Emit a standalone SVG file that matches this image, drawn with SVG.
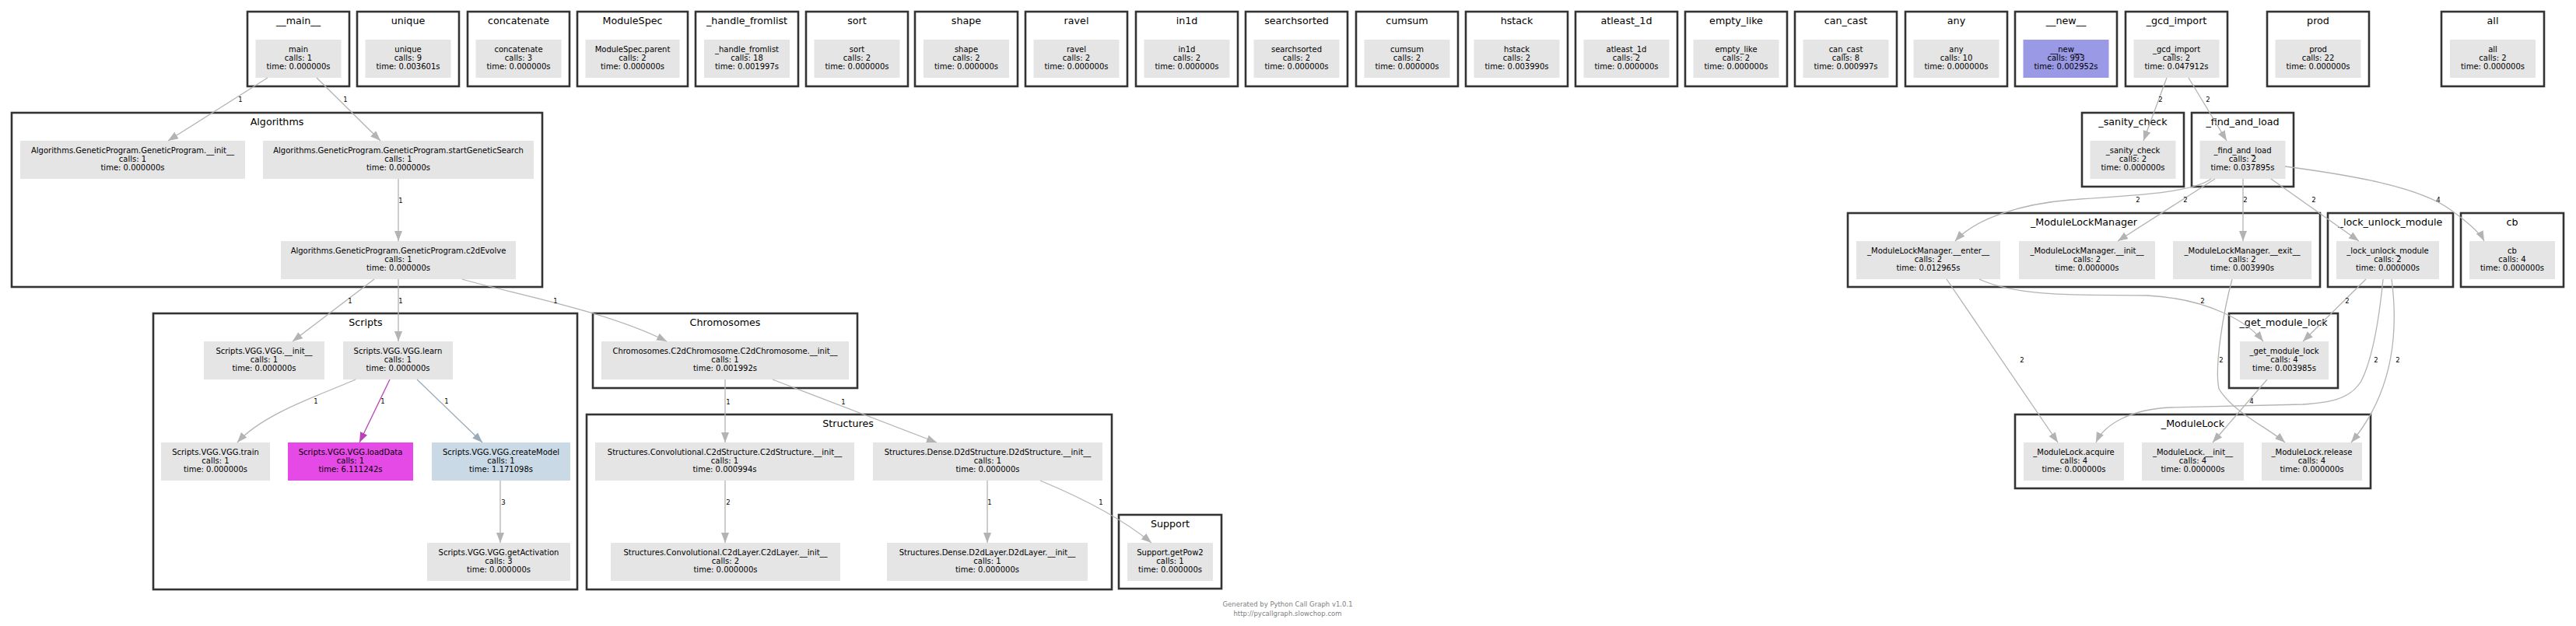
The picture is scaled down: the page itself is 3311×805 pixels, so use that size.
<svg xmlns="http://www.w3.org/2000/svg" width="3311" height="805" viewBox="0 0 3311 805">
<style>
.bg{fill:#ffffff}
.cl{fill:#ffffff;stroke:#333333;stroke-width:2.6}
.nd{fill:#e5e5e5}
.t{font-family:"DejaVu Sans",Verdana,sans-serif;font-size:10px;fill:#000;text-anchor:middle}
.ct{font-family:"DejaVu Sans",Verdana,sans-serif;font-size:12.7px;fill:#000;text-anchor:middle}
.e{fill:none;stroke:#b3b3b3;stroke-width:1.3;marker-end:url(#ag)}
.em{fill:none;stroke:#b942b9;stroke-width:1.3;marker-end:url(#am)}
.eb{fill:none;stroke:#9aabb8;stroke-width:1.3;marker-end:url(#ab)}
.el{font-family:"DejaVu Sans",Verdana,sans-serif;font-size:8.5px;fill:#000;text-anchor:middle}
.ft{font-family:"DejaVu Sans",Verdana,sans-serif;font-size:8.5px;fill:#808080;text-anchor:middle}
</style>
<defs>
<marker id="ag" markerUnits="userSpaceOnUse" markerWidth="14" markerHeight="11" refX="13" refY="5" orient="auto"><path d="M0,0 L13,5 L0,10 z" fill="#b3b3b3"/></marker>
<marker id="am" markerUnits="userSpaceOnUse" markerWidth="14" markerHeight="11" refX="13" refY="5" orient="auto"><path d="M0,0 L13,5 L0,10 z" fill="#b942b9"/></marker>
<marker id="ab" markerUnits="userSpaceOnUse" markerWidth="14" markerHeight="11" refX="13" refY="5" orient="auto"><path d="M0,0 L13,5 L0,10 z" fill="#9aabb8"/></marker>
</defs>
<rect class="bg" x="0" y="0" width="3311" height="805"/>

<!-- top row clusters -->
<g id="c-main"><rect class="cl" x="318" y="15" width="131" height="96"/><text class="ct" x="383.5" y="31">__main__</text>
<g id="n-main"><rect class="nd" x="328.5" y="51" width="110" height="49"/><text class="t" x="383.5" y="67"><tspan x="383.5">main</tspan><tspan x="383.5" dy="11">calls: 1</tspan><tspan x="383.5" dy="11">time: 0.000000s</tspan></text></g></g>
<g id="c-unique"><rect class="cl" x="459" y="15" width="131" height="96"/><text class="ct" x="524.5" y="31">unique</text>
<g id="n-unique"><rect class="nd" x="469.5" y="51" width="110" height="49"/><text class="t" x="524.5" y="67"><tspan x="524.5">unique</tspan><tspan x="524.5" dy="11">calls: 9</tspan><tspan x="524.5" dy="11">time: 0.003601s</tspan></text></g></g>
<g id="c-concatenate"><rect class="cl" x="601" y="15" width="131" height="96"/><text class="ct" x="666.5" y="31">concatenate</text>
<g id="n-concatenate"><rect class="nd" x="611.5" y="51" width="110" height="49"/><text class="t" x="666.5" y="67"><tspan x="666.5">concatenate</tspan><tspan x="666.5" dy="11">calls: 3</tspan><tspan x="666.5" dy="11">time: 0.000000s</tspan></text></g></g>
<g id="c-ModuleSpec"><rect class="cl" x="742" y="15" width="142" height="96"/><text class="ct" x="813" y="31">ModuleSpec</text>
<g id="n-ModuleSpec"><rect class="nd" x="752.5" y="51" width="121" height="49"/><text class="t" x="813" y="67"><tspan x="813">ModuleSpec.parent</tspan><tspan x="813" dy="11">calls: 2</tspan><tspan x="813" dy="11">time: 0.000000s</tspan></text></g></g>
<g id="c-handle_fromlist"><rect class="cl" x="894" y="15" width="132" height="96"/><text class="ct" x="960" y="31">_handle_fromlist</text>
<g id="n-handle_fromlist"><rect class="nd" x="905" y="51" width="110" height="49"/><text class="t" x="960" y="67"><tspan x="960">_handle_fromlist</tspan><tspan x="960" dy="11">calls: 18</tspan><tspan x="960" dy="11">time: 0.001997s</tspan></text></g></g>
<g id="c-sort"><rect class="cl" x="1036" y="15" width="131" height="96"/><text class="ct" x="1101.5" y="31">sort</text>
<g id="n-sort"><rect class="nd" x="1046.5" y="51" width="110" height="49"/><text class="t" x="1101.5" y="67"><tspan x="1101.5">sort</tspan><tspan x="1101.5" dy="11">calls: 2</tspan><tspan x="1101.5" dy="11">time: 0.000000s</tspan></text></g></g>
<g id="c-shape"><rect class="cl" x="1176" y="15" width="132" height="96"/><text class="ct" x="1242" y="31">shape</text>
<g id="n-shape"><rect class="nd" x="1187" y="51" width="110" height="49"/><text class="t" x="1242" y="67"><tspan x="1242">shape</tspan><tspan x="1242" dy="11">calls: 2</tspan><tspan x="1242" dy="11">time: 0.000000s</tspan></text></g></g>
<g id="c-ravel"><rect class="cl" x="1318" y="15" width="131" height="96"/><text class="ct" x="1383.5" y="31">ravel</text>
<g id="n-ravel"><rect class="nd" x="1328.5" y="51" width="110" height="49"/><text class="t" x="1383.5" y="67"><tspan x="1383.5">ravel</tspan><tspan x="1383.5" dy="11">calls: 2</tspan><tspan x="1383.5" dy="11">time: 0.000000s</tspan></text></g></g>
<g id="c-in1d"><rect class="cl" x="1460" y="15" width="131" height="96"/><text class="ct" x="1525.5" y="31">in1d</text>
<g id="n-in1d"><rect class="nd" x="1470.5" y="51" width="110" height="49"/><text class="t" x="1525.5" y="67"><tspan x="1525.5">in1d</tspan><tspan x="1525.5" dy="11">calls: 2</tspan><tspan x="1525.5" dy="11">time: 0.000000s</tspan></text></g></g>
<g id="c-searchsorted"><rect class="cl" x="1601" y="15" width="131" height="96"/><text class="ct" x="1666.5" y="31">searchsorted</text>
<g id="n-searchsorted"><rect class="nd" x="1611.5" y="51" width="110" height="49"/><text class="t" x="1666.5" y="67"><tspan x="1666.5">searchsorted</tspan><tspan x="1666.5" dy="11">calls: 2</tspan><tspan x="1666.5" dy="11">time: 0.000000s</tspan></text></g></g>
<g id="c-cumsum"><rect class="cl" x="1743" y="15" width="131" height="96"/><text class="ct" x="1808.5" y="31">cumsum</text>
<g id="n-cumsum"><rect class="nd" x="1753.5" y="51" width="110" height="49"/><text class="t" x="1808.5" y="67"><tspan x="1808.5">cumsum</tspan><tspan x="1808.5" dy="11">calls: 2</tspan><tspan x="1808.5" dy="11">time: 0.000000s</tspan></text></g></g>
<g id="c-hstack"><rect class="cl" x="1884" y="15" width="131" height="96"/><text class="ct" x="1949.5" y="31">hstack</text>
<g id="n-hstack"><rect class="nd" x="1894.5" y="51" width="110" height="49"/><text class="t" x="1949.5" y="67"><tspan x="1949.5">hstack</tspan><tspan x="1949.5" dy="11">calls: 2</tspan><tspan x="1949.5" dy="11">time: 0.003990s</tspan></text></g></g>
<g id="c-atleast_1d"><rect class="cl" x="2025" y="15" width="131" height="96"/><text class="ct" x="2090.5" y="31">atleast_1d</text>
<g id="n-atleast_1d"><rect class="nd" x="2035.5" y="51" width="110" height="49"/><text class="t" x="2090.5" y="67"><tspan x="2090.5">atleast_1d</tspan><tspan x="2090.5" dy="11">calls: 2</tspan><tspan x="2090.5" dy="11">time: 0.000000s</tspan></text></g></g>
<g id="c-empty_like"><rect class="cl" x="2166" y="15" width="131" height="96"/><text class="ct" x="2231.5" y="31">empty_like</text>
<g id="n-empty_like"><rect class="nd" x="2176.5" y="51" width="110" height="49"/><text class="t" x="2231.5" y="67"><tspan x="2231.5">empty_like</tspan><tspan x="2231.5" dy="11">calls: 2</tspan><tspan x="2231.5" dy="11">time: 0.000000s</tspan></text></g></g>
<g id="c-can_cast"><rect class="cl" x="2307" y="15" width="131" height="96"/><text class="ct" x="2372.5" y="31">can_cast</text>
<g id="n-can_cast"><rect class="nd" x="2317.5" y="51" width="110" height="49"/><text class="t" x="2372.5" y="67"><tspan x="2372.5">can_cast</tspan><tspan x="2372.5" dy="11">calls: 8</tspan><tspan x="2372.5" dy="11">time: 0.000997s</tspan></text></g></g>
<g id="c-any"><rect class="cl" x="2449" y="15" width="131" height="96"/><text class="ct" x="2514.5" y="31">any</text>
<g id="n-any"><rect class="nd" x="2459.5" y="51" width="110" height="49"/><text class="t" x="2514.5" y="67"><tspan x="2514.5">any</tspan><tspan x="2514.5" dy="11">calls: 10</tspan><tspan x="2514.5" dy="11">time: 0.000000s</tspan></text></g></g>
<g id="c-new"><rect class="cl" x="2590" y="15" width="131" height="96"/><text class="ct" x="2655.5" y="31">__new__</text>
<g id="n-new"><rect x="2600.5" y="51" width="110" height="49" fill="#9999e6"/><text class="t" x="2655.5" y="67"><tspan x="2655.5">__new__</tspan><tspan x="2655.5" dy="11">calls: 993</tspan><tspan x="2655.5" dy="11">time: 0.002952s</tspan></text></g></g>
<g id="c-gcd_import"><rect class="cl" x="2732" y="15" width="131" height="96"/><text class="ct" x="2797.5" y="31">_gcd_import</text>
<g id="n-gcd_import"><rect class="nd" x="2742.5" y="51" width="110" height="49"/><text class="t" x="2797.5" y="67"><tspan x="2797.5">_gcd_import</tspan><tspan x="2797.5" dy="11">calls: 2</tspan><tspan x="2797.5" dy="11">time: 0.047912s</tspan></text></g></g>
<g id="c-prod"><rect class="cl" x="2914" y="15" width="131" height="96"/><text class="ct" x="2979.5" y="31">prod</text>
<g id="n-prod"><rect class="nd" x="2924.5" y="51" width="110" height="49"/><text class="t" x="2979.5" y="67"><tspan x="2979.5">prod</tspan><tspan x="2979.5" dy="11">calls: 22</tspan><tspan x="2979.5" dy="11">time: 0.000000s</tspan></text></g></g>
<g id="c-all"><rect class="cl" x="3138" y="15" width="132" height="96"/><text class="ct" x="3204" y="31">all</text>
<g id="n-all"><rect class="nd" x="3149" y="51" width="110" height="49"/><text class="t" x="3204" y="67"><tspan x="3204">all</tspan><tspan x="3204" dy="11">calls: 2</tspan><tspan x="3204" dy="11">time: 0.000000s</tspan></text></g></g>

<!-- Algorithms -->
<g id="c-Algorithms"><rect class="cl" x="15" y="145" width="682" height="224"/><text class="ct" x="356" y="161">Algorithms</text>
<g id="n-gp-init"><rect class="nd" x="26" y="181" width="289" height="49"/><text class="t" x="170.5" y="197"><tspan x="170.5">Algorithms.GeneticProgram.GeneticProgram.__init__</tspan><tspan x="170.5" dy="11">calls: 1</tspan><tspan x="170.5" dy="11">time: 0.000000s</tspan></text></g>
<g id="n-gp-start"><rect class="nd" x="338" y="181" width="348" height="49"/><text class="t" x="512" y="197"><tspan x="512">Algorithms.GeneticProgram.GeneticProgram.startGeneticSearch</tspan><tspan x="512" dy="11">calls: 1</tspan><tspan x="512" dy="11">time: 0.000000s</tspan></text></g>
<g id="n-gp-c2d"><rect class="nd" x="361" y="310" width="302" height="49"/><text class="t" x="512" y="326"><tspan x="512">Algorithms.GeneticProgram.GeneticProgram.c2dEvolve</tspan><tspan x="512" dy="11">calls: 1</tspan><tspan x="512" dy="11">time: 0.000000s</tspan></text></g>
</g>

<!-- Scripts -->
<g id="c-Scripts"><rect class="cl" x="197" y="403" width="545" height="355"/><text class="ct" x="470" y="419">Scripts</text>
<g id="n-vgg-init"><rect class="nd" x="262" y="439" width="155" height="49"/><text class="t" x="339.5" y="455"><tspan x="339.5">Scripts.VGG.VGG.__init__</tspan><tspan x="339.5" dy="11">calls: 1</tspan><tspan x="339.5" dy="11">time: 0.000000s</tspan></text></g>
<g id="n-vgg-learn"><rect class="nd" x="441" y="439" width="141" height="49"/><text class="t" x="511.5" y="455"><tspan x="511.5">Scripts.VGG.VGG.learn</tspan><tspan x="511.5" dy="11">calls: 1</tspan><tspan x="511.5" dy="11">time: 0.000000s</tspan></text></g>
<g id="n-vgg-train"><rect class="nd" x="207" y="569" width="140" height="49"/><text class="t" x="277" y="585"><tspan x="277">Scripts.VGG.VGG.train</tspan><tspan x="277" dy="11">calls: 1</tspan><tspan x="277" dy="11">time: 0.000000s</tspan></text></g>
<g id="n-vgg-load"><rect x="370" y="569" width="161" height="49" fill="#e64ae6"/><text class="t" x="450.5" y="585"><tspan x="450.5">Scripts.VGG.VGG.loadData</tspan><tspan x="450.5" dy="11">calls: 1</tspan><tspan x="450.5" dy="11">time: 6.111242s</tspan></text></g>
<g id="n-vgg-create"><rect x="555" y="569" width="178" height="49" fill="#c9dae6"/><text class="t" x="644" y="585"><tspan x="644">Scripts.VGG.VGG.createModel</tspan><tspan x="644" dy="11">calls: 1</tspan><tspan x="644" dy="11">time: 1.171098s</tspan></text></g>
<g id="n-vgg-act"><rect class="nd" x="549" y="698" width="184" height="49"/><text class="t" x="641" y="714"><tspan x="641">Scripts.VGG.VGG.getActivation</tspan><tspan x="641" dy="11">calls: 3</tspan><tspan x="641" dy="11">time: 0.000000s</tspan></text></g>
</g>

<!-- Chromosomes -->
<g id="c-Chromosomes"><rect class="cl" x="762" y="403" width="340" height="96"/><text class="ct" x="932" y="419">Chromosomes</text>
<g id="n-chrom"><rect class="nd" x="773" y="439" width="318" height="49"/><text class="t" x="932" y="455"><tspan x="932">Chromosomes.C2dChromosome.C2dChromosome.__init__</tspan><tspan x="932" dy="11">calls: 1</tspan><tspan x="932" dy="11">time: 0.001992s</tspan></text></g>
</g>

<!-- Structures -->
<g id="c-Structures"><rect class="cl" x="754" y="533" width="675" height="225"/><text class="ct" x="1090" y="549">Structures</text>
<g id="n-c2dstruct"><rect class="nd" x="765" y="569" width="333" height="49"/><text class="t" x="931.5" y="585"><tspan x="931.5">Structures.Convolutional.C2dStructure.C2dStructure.__init__</tspan><tspan x="931.5" dy="11">calls: 1</tspan><tspan x="931.5" dy="11">time: 0.000994s</tspan></text></g>
<g id="n-d2dstruct"><rect class="nd" x="1122" y="569" width="295" height="49"/><text class="t" x="1269.5" y="585"><tspan x="1269.5">Structures.Dense.D2dStructure.D2dStructure.__init__</tspan><tspan x="1269.5" dy="11">calls: 1</tspan><tspan x="1269.5" dy="11">time: 0.000000s</tspan></text></g>
<g id="n-c2dlayer"><rect class="nd" x="785" y="698" width="295" height="49"/><text class="t" x="932.5" y="714"><tspan x="932.5">Structures.Convolutional.C2dLayer.C2dLayer.__init__</tspan><tspan x="932.5" dy="11">calls: 2</tspan><tspan x="932.5" dy="11">time: 0.000000s</tspan></text></g>
<g id="n-d2dlayer"><rect class="nd" x="1140" y="698" width="258" height="49"/><text class="t" x="1269" y="714"><tspan x="1269">Structures.Dense.D2dLayer.D2dLayer.__init__</tspan><tspan x="1269" dy="11">calls: 1</tspan><tspan x="1269" dy="11">time: 0.000000s</tspan></text></g>
</g>

<!-- Support -->
<g id="c-Support"><rect class="cl" x="1438" y="662" width="132" height="95"/><text class="ct" x="1504" y="678">Support</text>
<g id="n-getpow2"><rect class="nd" x="1449" y="698" width="110" height="49"/><text class="t" x="1504" y="714"><tspan x="1504">Support.getPow2</tspan><tspan x="1504" dy="11">calls: 1</tspan><tspan x="1504" dy="11">time: 0.000000s</tspan></text></g>
</g>

<!-- importlib side -->
<g id="c-sanity_check"><rect class="cl" x="2676" y="145" width="131" height="95"/><text class="ct" x="2741.5" y="161">_sanity_check</text>
<g id="n-sanity_check"><rect class="nd" x="2686.5" y="181" width="110" height="49"/><text class="t" x="2741.5" y="197"><tspan x="2741.5">_sanity_check</tspan><tspan x="2741.5" dy="11">calls: 2</tspan><tspan x="2741.5" dy="11">time: 0.000000s</tspan></text></g>
</g>
<g id="c-find_and_load"><rect class="cl" x="2817" y="145" width="131" height="95"/><text class="ct" x="2882.5" y="161">_find_and_load</text>
<g id="n-find_and_load"><rect class="nd" x="2827.5" y="181" width="110" height="49"/><text class="t" x="2882.5" y="197"><tspan x="2882.5">_find_and_load</tspan><tspan x="2882.5" dy="11">calls: 2</tspan><tspan x="2882.5" dy="11">time: 0.037895s</tspan></text></g>
</g>
<g id="c-ModuleLockManager"><rect class="cl" x="2375" y="274" width="607" height="95"/><text class="ct" x="2678.5" y="290">_ModuleLockManager</text>
<g id="n-mlm-enter"><rect class="nd" x="2386" y="310" width="185" height="49"/><text class="t" x="2478.5" y="326"><tspan x="2478.5">_ModuleLockManager.__enter__</tspan><tspan x="2478.5" dy="11">calls: 2</tspan><tspan x="2478.5" dy="11">time: 0.012965s</tspan></text></g>
<g id="n-mlm-init"><rect class="nd" x="2595" y="310" width="175" height="49"/><text class="t" x="2682.5" y="326"><tspan x="2682.5">_ModuleLockManager.__init__</tspan><tspan x="2682.5" dy="11">calls: 2</tspan><tspan x="2682.5" dy="11">time: 0.000000s</tspan></text></g>
<g id="n-mlm-exit"><rect class="nd" x="2793" y="310" width="178" height="49"/><text class="t" x="2882" y="326"><tspan x="2882">_ModuleLockManager.__exit__</tspan><tspan x="2882" dy="11">calls: 2</tspan><tspan x="2882" dy="11">time: 0.003990s</tspan></text></g>
</g>
<g id="c-lock_unlock_module"><rect class="cl" x="2992" y="274" width="161" height="95"/><text class="ct" x="3072.5" y="290">_lock_unlock_module</text>
<g id="n-lock_unlock_module"><rect class="nd" x="3003" y="310" width="132" height="49"/><text class="t" x="3069" y="326"><tspan x="3069">_lock_unlock_module</tspan><tspan x="3069" dy="11">calls: 2</tspan><tspan x="3069" dy="11">time: 0.000000s</tspan></text></g>
</g>
<g id="c-cb"><rect class="cl" x="3163" y="274" width="132" height="95"/><text class="ct" x="3229" y="290">cb</text>
<g id="n-cb"><rect class="nd" x="3174" y="310" width="110" height="49"/><text class="t" x="3229" y="326"><tspan x="3229">cb</tspan><tspan x="3229" dy="11">calls: 4</tspan><tspan x="3229" dy="11">time: 0.000000s</tspan></text></g>
</g>
<g id="c-get_module_lock"><rect class="cl" x="2865" y="403" width="140" height="96"/><text class="ct" x="2935" y="419">_get_module_lock</text>
<g id="n-get_module_lock"><rect class="nd" x="2879" y="439" width="114" height="49"/><text class="t" x="2936" y="455"><tspan x="2936">_get_module_lock</tspan><tspan x="2936" dy="11">calls: 4</tspan><tspan x="2936" dy="11">time: 0.003985s</tspan></text></g>
</g>
<g id="c-ModuleLock"><rect class="cl" x="2590" y="533" width="457" height="95"/><text class="ct" x="2818.5" y="549">_ModuleLock</text>
<g id="n-ml-acquire"><rect class="nd" x="2601" y="569" width="129" height="49"/><text class="t" x="2665.5" y="585"><tspan x="2665.5">_ModuleLock.acquire</tspan><tspan x="2665.5" dy="11">calls: 4</tspan><tspan x="2665.5" dy="11">time: 0.000000s</tspan></text></g>
<g id="n-ml-init"><rect class="nd" x="2753" y="569" width="131" height="49"/><text class="t" x="2818.5" y="585"><tspan x="2818.5">_ModuleLock.__init__</tspan><tspan x="2818.5" dy="11">calls: 4</tspan><tspan x="2818.5" dy="11">time: 0.000000s</tspan></text></g>
<g id="n-ml-release"><rect class="nd" x="2907" y="569" width="129" height="49"/><text class="t" x="2971.5" y="585"><tspan x="2971.5">_ModuleLock.release</tspan><tspan x="2971.5" dy="11">calls: 4</tspan><tspan x="2971.5" dy="11">time: 0.000000s</tspan></text></g>
</g>

<!-- connectors -->
<g id="edges">
<path class="e" d="M344,100 L216,181"/><text class="el" x="309" y="131">1</text>
<path class="e" d="M407,100 L489,181"/><text class="el" x="444" y="131">1</text>
<path class="e" d="M512,230 L512,310"/><text class="el" x="515" y="261">1</text>
<path class="e" d="M481,359 L376,439"/><text class="el" x="450" y="390">1</text>
<path class="e" d="M512,359 L512,439"/><text class="el" x="515" y="390">1</text>
<path class="e" d="M594,359 C660,378 780,400 857,439"/><text class="el" x="714" y="390">1</text>
<path class="e" d="M457,488 C420,505 340,530 305,569"/><text class="el" x="406" y="519">1</text>
<path class="em" d="M501,488 L462,569"/><text class="el" x="492" y="519">1</text>
<path class="eb" d="M536,488 L620,569"/><text class="el" x="574" y="519">1</text>
<path class="e" d="M643,618 L643,698"/><text class="el" x="647" y="649">3</text>
<path class="e" d="M932,488 L932,569"/><text class="el" x="936" y="520">1</text>
<path class="e" d="M993,488 L1204,569"/><text class="el" x="1084" y="520">1</text>
<path class="e" d="M932,618 L932,698"/><text class="el" x="936" y="649">2</text>
<path class="e" d="M1269,618 L1269,698"/><text class="el" x="1272" y="649">1</text>
<path class="e" d="M1337,618 C1390,640 1440,665 1480,698"/><text class="el" x="1415" y="649">1</text>
<path class="e" d="M2785,100 L2755,181"/><text class="el" x="2777" y="131">2</text>
<path class="e" d="M2813,100 L2862,181"/><text class="el" x="2838" y="131">2</text>
<path class="e" d="M2842,230 C2815,250 2720,252 2661,257 C2600,262 2540,280 2513,310"/><text class="el" x="2748" y="260">2</text>
<path class="e" d="M2847,230 L2722,310"/><text class="el" x="2809" y="260">2</text>
<path class="e" d="M2883,230 L2883,310"/><text class="el" x="2886" y="260">2</text>
<path class="e" d="M2919,230 L3032,310"/><text class="el" x="2974" y="260">2</text>
<path class="e" d="M2937,214 C3020,225 3110,240 3150,270 C3175,288 3188,300 3193,310"/><text class="el" x="3134" y="260">4</text>
<path class="e" d="M2544,359 C2600,385 2700,378 2760,380 C2840,384 2890,415 2909,439"/><text class="el" x="2831" y="390">2</text>
<path class="e" d="M2502,359 L2645,569"/><text class="el" x="2599" y="466">2</text>
<path class="e" d="M2869,359 C2858,400 2846,470 2852,500 C2870,530 2915,550 2937,569"/><text class="el" x="2855" y="466">2</text>
<path class="e" d="M3041,359 L2960,439"/><text class="el" x="3017" y="390">2</text>
<path class="e" d="M3063,359 C3058,410 3050,460 3035,490 C3020,515 2990,518 2960,520 L2790,524 C2740,526 2705,545 2694,569"/><text class="el" x="3054" y="466">2</text>
<path class="e" d="M3074,359 C3082,420 3080,500 3022,569"/><text class="el" x="3082" y="466">2</text>
<path class="e" d="M2914,488 L2844,569"/><text class="el" x="2894" y="519">4</text>
</g>

<text class="ft" x="1655" y="780">Generated by Python Call Graph v1.0.1</text>
<text class="ft" x="1655" y="791.5">http://pycallgraph.slowchop.com</text>
</svg>
